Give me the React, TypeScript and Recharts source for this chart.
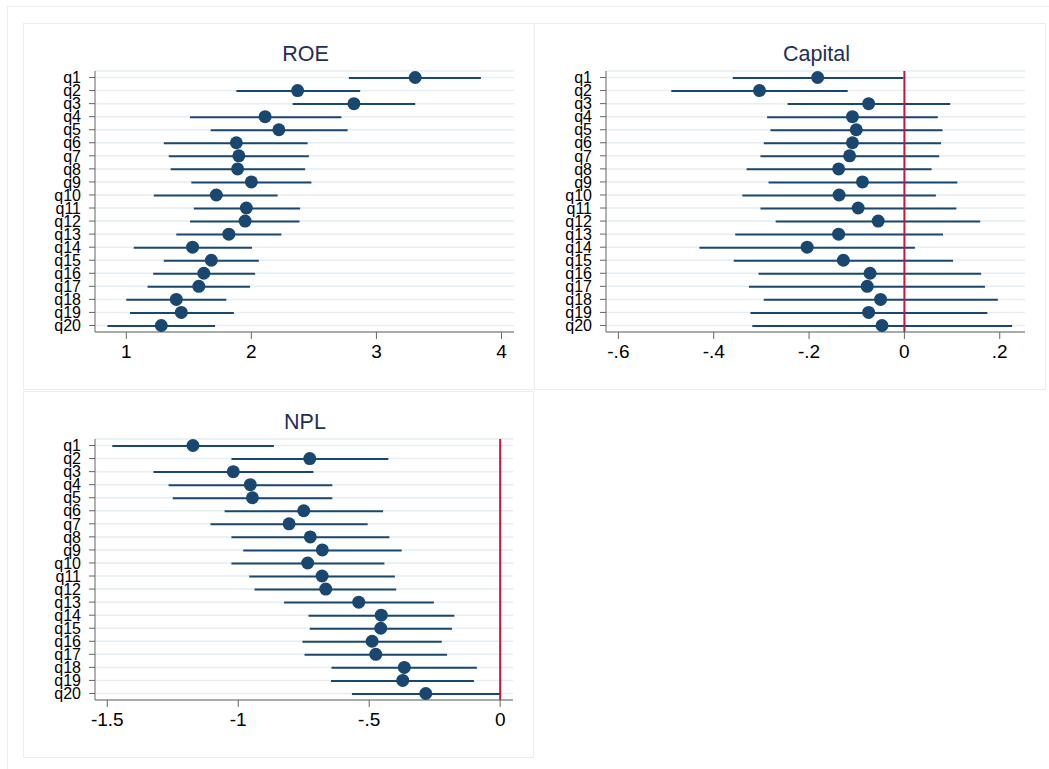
import React from "react";
import {
  ComposedChart, Bar, Line, XAxis, YAxis, CartesianGrid, ReferenceLine,
} from "recharts";

const categories = [
  "q1", "q2", "q3", "q4", "q5", "q6", "q7", "q8", "q9", "q10",
  "q11", "q12", "q13", "q14", "q15", "q16", "q17", "q18", "q19", "q20",
];

// ROE: point estimate and confidence interval
const roeCoef = [3.31, 2.37, 2.82, 2.11, 2.22, 1.88, 1.9, 1.89, 2.0, 1.72, 1.96, 1.95, 1.82, 1.53, 1.68, 1.62, 1.58, 1.4, 1.44, 1.28];
const roeLow = [2.78, 1.88, 2.33, 1.51, 1.675, 1.3, 1.34, 1.355, 1.52, 1.22, 1.54, 1.51, 1.4, 1.06, 1.3, 1.215, 1.17, 1.0, 1.03, 0.85];
const roeHigh = [3.835, 2.87, 3.31, 2.72, 2.77, 2.45, 2.46, 2.43, 2.48, 2.21, 2.39, 2.385, 2.24, 2.005, 2.06, 2.03, 1.99, 1.8, 1.86, 1.71];

// Capital
const capCoef = [-0.182, -0.304, -0.075, -0.109, -0.101, -0.109, -0.115, -0.138, -0.088, -0.137, -0.097, -0.055, -0.138, -0.204, -0.128, -0.072, -0.078, -0.05, -0.075, -0.047];
const capLow = [-0.36, -0.489, -0.245, -0.288, -0.281, -0.295, -0.302, -0.331, -0.285, -0.34, -0.302, -0.27, -0.355, -0.43, -0.358, -0.306, -0.326, -0.295, -0.323, -0.319];
const capHigh = [-0.002, -0.119, 0.096, 0.07, 0.08, 0.077, 0.073, 0.057, 0.111, 0.066, 0.109, 0.159, 0.081, 0.022, 0.102, 0.161, 0.169, 0.196, 0.174, 0.226];

// NPL
const nplCoef = [-1.173, -0.727, -1.019, -0.954, -0.946, -0.75, -0.806, -0.725, -0.679, -0.735, -0.68, -0.666, -0.54, -0.454, -0.456, -0.489, -0.475, -0.366, -0.372, -0.284];
const nplLow = [-1.481, -1.026, -1.324, -1.266, -1.25, -1.052, -1.106, -1.026, -0.981, -1.026, -0.958, -0.938, -0.825, -0.732, -0.727, -0.755, -0.747, -0.644, -0.646, -0.566];
const nplHigh = [-0.864, -0.427, -0.713, -0.641, -0.641, -0.447, -0.506, -0.423, -0.376, -0.442, -0.402, -0.397, -0.253, -0.175, -0.184, -0.223, -0.203, -0.089, -0.1, 0.0];

const roeTicks = [1, 2, 3, 4];
const capTicks = [-0.6, -0.4, -0.2, 0, 0.2];
const nplTicks = [-1.5, -1, -0.5, 0];

const NAVY = "#1a476f";
const FONT = "'Liberation Sans', Arial, Helvetica, sans-serif";

const build = (coef: number[], lo: number[], hi: number[]) =>
  categories.map((q, i) => ({ q, coef: coef[i], ci: [lo[i], hi[i]] }));

// stata style: drop leading zero
const stataNum = (v: number) => {
  if (v === 0) return "0";
  const s = String(Math.round(v * 100) / 100);
  return s.replace(/^0\./, ".").replace(/^-0\./, "-.");
};

type PanelProps = {
  title: string;
  data: ReturnType<typeof build>;
  domain: [number, number];
  ticks: number[];
  zero?: boolean;
  left: number;
  top: number;
  width: number;
  height: number;
};

function Panel({ title, data, domain, ticks, zero, left, top, width, height }: PanelProps) {
  const mLeft = 71;
  const mRight = 20;
  return (
    <div style={{ position: "absolute", left, top, width, height, border: "1px solid #e8eef0", boxSizing: "border-box" }}>
      <div
        style={{
          position: "absolute", left: mLeft, width: width - mLeft - mRight, top: 18,
          textAlign: "center", fontSize: 21.5, color: "#1f2f55", fontFamily: FONT,
        }}
      >
        {title}
      </div>
      <ComposedChart
        width={width - 2}
        height={height - 2}
        layout="vertical"
        data={data}
        margin={{ top: 47, right: mRight, bottom: 27, left: 0 }}
      >
        <CartesianGrid vertical={false} stroke="#e6eef1" strokeWidth={1.5} />
        <XAxis
          type="number"
          domain={domain}
          ticks={ticks}
          allowDataOverflow
          tickFormatter={stataNum}
          height={30}
          tickSize={7}
          tickMargin={6}
          stroke="#666"
          tick={{ fill: "#000", fontSize: 19, fontFamily: FONT }}
        />
        <YAxis
          type="category"
          dataKey="q"
          width={mLeft}
          interval={0}
          tickSize={6}
          tickMargin={8}
          stroke="#666"
          tick={{ fill: "#000", fontSize: 16, fontFamily: FONT }}
        />
        <Bar dataKey="ci" barSize={2} fill={NAVY} isAnimationActive={false} />
        {zero && <ReferenceLine x={0} stroke="#c8153c" strokeWidth={2} />}
        <Line
          dataKey="coef"
          stroke="none"
          dot={{ r: 6.5, fill: NAVY, stroke: "none" }}
          activeDot={false}
          isAnimationActive={false}
        />
      </ComposedChart>
    </div>
  );
}

export default function App() {
  return (
    <div style={{ position: "absolute", left: 0, top: 0, width: 1049, height: 769, background: "#fff", overflow: "hidden" }}>
      <div style={{ position: "absolute", left: 7, top: 6, width: 1100, height: 800, border: "1px solid #e8eef0" }} />
      <Panel title="ROE" data={build(roeCoef, roeLow, roeHigh)} domain={[0.75, 4.1]} ticks={roeTicks}
        left={23} top={23} width={512} height={367} />
      <Panel title="Capital" data={build(capCoef, capLow, capHigh)} domain={[-0.626, 0.253]} ticks={capTicks} zero
        left={534} top={23} width={512} height={367} />
      <Panel title="NPL" data={build(nplCoef, nplLow, nplHigh)} domain={[-1.547, 0.049]} ticks={nplTicks} zero
        left={23} top={391} width={511} height={367} />
    </div>
  );
}
